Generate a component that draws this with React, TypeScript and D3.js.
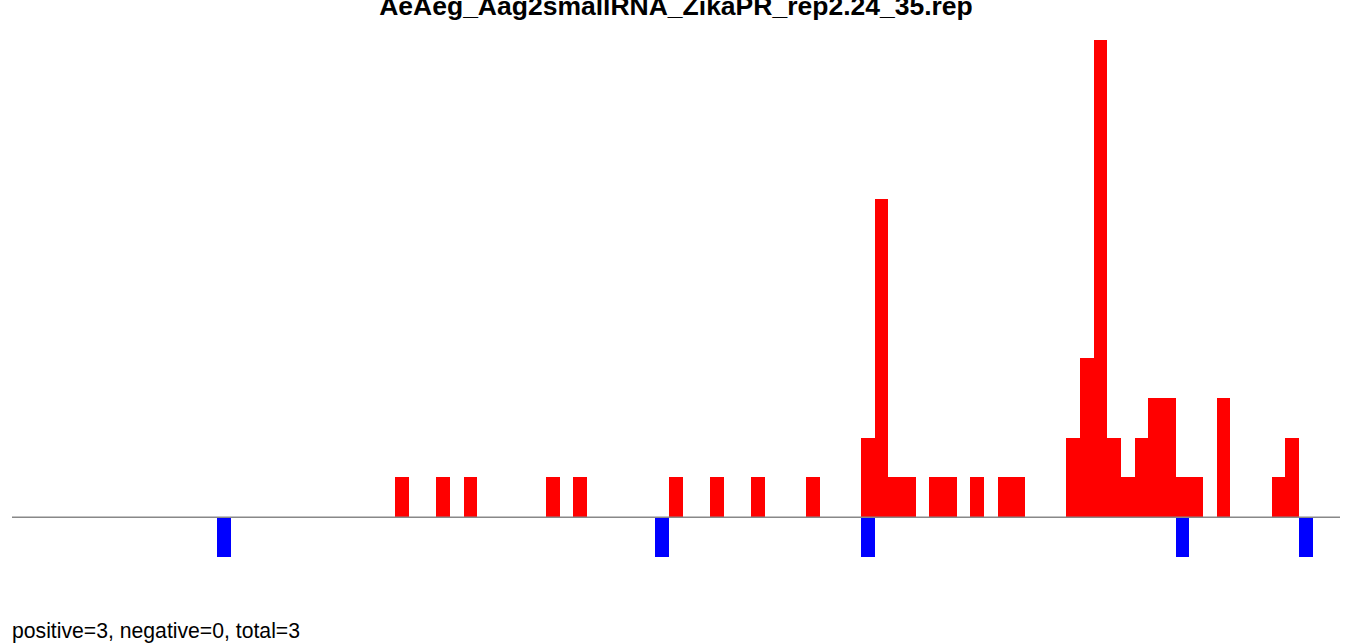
import React from "react";
import * as d3 from "d3";

const title = "AeAeg_Aag2smallRNA_ZikaPR_rep2.24_35.rep";
const footer = "positive=3, negative=0, total=3";
const binCount = 97;
const posBins = [28, 31, 33, 39, 41, 48, 51, 54, 58, 62, 63, 64, 65, 67, 68, 70, 72, 73, 77, 78, 79, 80, 81, 82, 83, 84, 85, 86, 88, 92, 93];
const posValues = [1, 1, 1, 1, 1, 1, 1, 1, 1, 2, 8, 1, 1, 1, 1, 1, 1, 1, 2, 4, 12, 2, 1, 2, 3, 3, 1, 1, 3, 1, 2];
const negBins = [15, 47, 62, 85, 94];
const negValues = [-1, -1, -1, -1, -1];

export default function App() {
  const W = 1349, H = 643;
  const x = d3.scaleLinear().domain([0, binCount]).range([12, 1340]);
  const y = d3.scaleLinear().domain([-1, 12]).range([557, 40]);
  const bw = x(1) - x(0);
  const pos = posBins.map((b, i) => ({ b, v: posValues[i] }));
  const neg = negBins.map((b, i) => ({ b, v: negValues[i] }));
  return (
    <svg width={W} height={H} style={{ position: "absolute", left: 0, top: 0, background: "#fff" }}
      fontFamily="'Liberation Sans', Arial, sans-serif">
      <text x={676} y={15} textAnchor="middle" fontWeight="bold" fontSize={26.5}>{title}</text>
      {pos.map((d) => (
        <rect key={"p" + d.b} x={x(d.b)} y={y(d.v)} width={bw} height={y(0) - y(d.v)} fill="#ff0000" shapeRendering="crispEdges" />
      ))}
      {neg.map((d) => (
        <rect key={"n" + d.b} x={x(d.b)} y={y(0)} width={bw} height={y(d.v) - y(0)} fill="#0000ff" shapeRendering="crispEdges" />
      ))}
      <line x1={x(0)} x2={x(binCount)} y1={y(0)} y2={y(0)} stroke="#888888" strokeWidth={1.3} />
      <text x={12} y={638} fontSize={21.2}>{footer}</text>
    </svg>
  );
}
